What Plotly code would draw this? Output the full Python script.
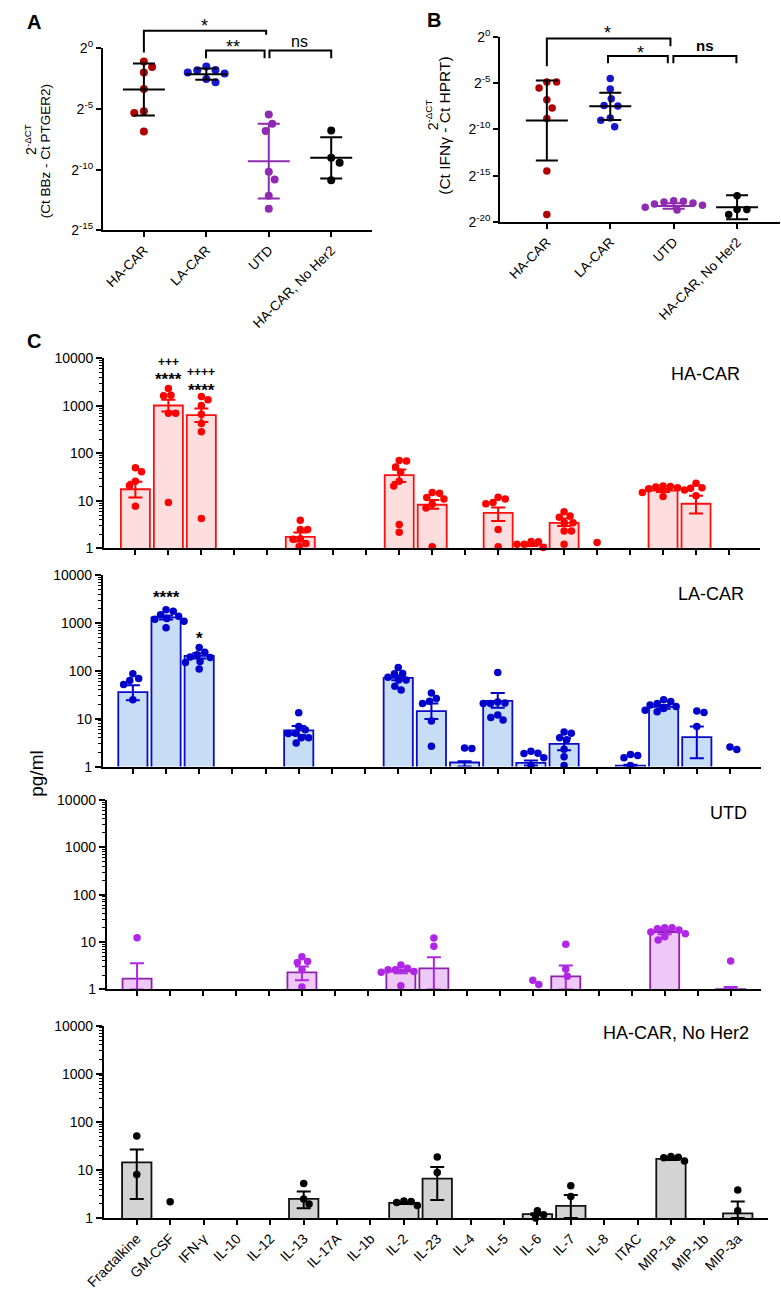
import math
import plotly.graph_objects as go

W, H = 781, 1293
FONT = "Liberation Sans, Arial, Helvetica, sans-serif"

# ======================= DATA =======================
GROUPS = ["HA-CAR", "LA-CAR", "UTD", "HA-CAR, No Her2"]

# Panel A: log2 of 2^-dCT (Ct BBz - Ct PTGER2)
A_HA = [-1.08, -1.52, -1.98, -3.34, -5.18, -5.32, -6.86]
A_LA = [-1.49, -1.77, -1.79, -1.98, -2.06, -2.52, -2.79]
A_UTD = [-5.45, -6.21, -6.81, -10.17, -10.82, -12.15, -13.24]
A_NOHER2 = [-6.78, -9.03, -9.44, -10.88]
A_MEAN = [-3.39, -2.12, -9.30, -9.03]
A_SD = [2.15, 0.47, 3.08, 1.70]
A_YTICKS = [0, -5, -10, -15]

# Panel B: log2 of 2^-dCT (Ct IFNg - Ct HPRT)
B_HA = [-4.87, -4.87, -5.51, -6.79, -7.68, -8.82, -14.50, -19.19]
B_LA = [-4.48, -5.62, -6.68, -7.40, -7.46, -8.75, -9.00, -9.70]
B_UTD = [-17.70, -17.75, -17.85, -17.95, -18.05, -18.20, -18.40, -18.70]
B_NOHER2 = [-17.17, -18.66, -18.66, -19.20]
B_MEAN = [-9.03, -7.50, -18.27, -18.40]
B_SD = [4.32, 1.48, 0.30, 1.30]
B_YTICKS = [0, -5, -10, -15, -20]

# Panel C: cytokines (pg/ml)
CYTOKINES = ["Fractalkine", "GM-CSF", "IFN-γ", "IL-10", "IL-12", "IL-13", "IL-17A",
             "IL-1b", "IL-2", "IL-23", "IL-4", "IL-5", "IL-6", "IL-7", "IL-8",
             "ITAC", "MIP-1a", "MIP-1b", "MIP-3a"]
C_YTICKS = [1, 10, 100, 1000, 10000]

HA_MEAN = [17.6, 1019, 641, None, None, 1.75, None, None, 35, 8.3, None, 5.6, 1.2, 3.46, None, None, 16.5, 8.7, None]
HA_UP = [25.4, 1340, 883, None, None, 2.15, None, None, 45.6, 10.5, None, 7.3, 1.28, 4.25, None, None, 17.8, 12.8, None]
HA_LO = [11.8, 758, 458, None, None, 1.4, None, None, 25, 6.8, None, 3.76, 1.12, 2.95, None, None, 15.3, 5.4, None]
HA_PTS = [[50, 41, 26, 21, 7.7], [2330, 1665, 1644, 700, 700, 9.3],
          [1567, 1350, 1020, 664, 425, 285, 4.25], [], [],
          [3.9, 2.5, 2.5, 1.6, 1.55, 1.27, 1.1], [], [],
          [71, 69, 52, 40, 26, 20.5, 3.2, 2.2], [15, 14.5, 11.8, 10.9, 8.6, 7.1, 1.08], [],
          [12, 10.9, 9.3, 8.7, 2.5, 1.08], [1.4, 1.38, 1.23, 1.23, 1.05],
          [5.9, 4.8, 4.5, 3.46, 3.46, 2.33, 2.33, 1.23], [1.33], [],
          [20.5, 20, 19.5, 19, 18, 17, 15, 12.4], [23.4, 19, 18.4, 12.8], []]

LA_MEAN = [36, 1318, 207, None, None, 5.7, None, None, 72, 14.5, 1.22, 23.6, 1.2, 2.98, None, 1.05, 17.8, 4.15, None]
LA_UP = [50, 1450, 235, None, None, 7.1, None, None, 80, 21, 1.3, 34.5, 1.35, 3.9, None, 1.1, 19.5, 6.9, None]
LA_LO = [24.5, 1190, 182, None, None, 4.6, None, None, 64, 9.9, 1.0, 17, 1.05, 2.2, None, 1.0, 16.3, 1.5, None]
LA_PTS = [[87, 70, 63, 52, 25], [1900, 1780, 1500, 1400, 1250, 1200, 1100, 800],
          [308, 245, 219, 197, 192, 158, 150, 110], [], [],
          [13.4, 6.9, 5.9, 5.0, 4.9, 4.0, 4.0, 3.1], [], [],
          [118, 89, 87, 74, 65, 65, 48, 40], [34.6, 26.6, 23.3, 21, 9, 2.66], [2.46, 2.4],
          [93, 22.5, 21.5, 21, 21, 12, 10.7, 9.4], [2.1, 1.9, 1.88, 1.53, 1.06],
          [5.3, 5.0, 4.0, 3.65, 2.3, 1.6, 1.06], [], [1.8, 1.71, 1.53, 1.06],
          [25, 23, 21, 19.5, 18, 16.5, 15, 14], [14.5, 13.6, 6.9], [2.58, 2.27]]

UTD_MEAN = [1.69, None, None, None, None, 2.29, None, None, 2.4, 2.8, None, None, None, 1.89, None, None, 16.3, None, 1.02]
UTD_UP = [3.57, None, None, None, None, 3.05, None, None, 2.6, 4.76, None, None, None, 3.2, None, None, 18.0, None, 1.13]
UTD_LO = [1.0, None, None, None, None, 1.56, None, None, 2.2, 1.0, None, None, None, 1.0, None, None, 14.7, None, 1.0]
UTD_PTS = [[12.4], [], [], [], [], [4.9, 3.9, 3.7, 2.6, 1.13], [], [],
           [3.3, 2.8, 2.6, 2.6, 2.4, 2.3, 1.2], [12.2, 8.2], [], [], [1.56, 1.27],
           [9.0, 2.7, 1.9], [], [], [20, 20, 19, 18, 16.3, 15, 13, 11], [], [4.0]]

NH_MEAN = [14.3, None, None, None, None, 2.49, None, None, 2.05, 6.6, None, None, 1.2, 1.79, None, None, 17, None, 1.25]
NH_UP = [26.4, None, None, None, None, 3.53, None, None, 2.15, 11.5, None, None, 1.25, 3.0, None, None, 18, None, 2.2]
NH_LO = [2.49, None, None, None, None, 1.6, None, None, 1.95, 2.37, None, None, 1.15, 1.0, None, None, 16, None, 1.0]
NH_PTS = [[50.6, 8.0], [2.16], [], [], [], [5.2, 2.49, 1.96], [], [],
          [2.26, 2.2, 2.1, 1.82], [18.5, 8.8], [], [], [1.41, 1.17, 1.0],
          [4.69, 2.79], [], [], [19, 18.4, 17.9, 15.3], [], [3.8, 1.41]]

# ======================= HELPERS =======================
def xdom(a, b):
    return [a / W, b / W]

def ydom(top, bottom):
    return [1 - bottom / H, 1 - top / H]

def py(v):
    return 1 - v / H

def px(v):
    return v / W

def swarm(vals, to_px, diam):
    """Beeswarm horizontal offsets (px) so that markers do not overlap."""
    order = sorted(range(len(vals)), key=lambda i: -vals[i])
    offs = [0.0] * len(vals)
    placed = []
    side = 1
    for i in order:
        y = to_px(vals[i])
        forb = []
        for (ox, oy) in placed:
            dy = abs(oy - y)
            if dy < diam:
                h = math.sqrt(diam * diam - dy * dy)
                forb.append((ox - h, ox + h))
        cands = [0.0] + [a for a, _ in forb] + [b for _, b in forb]
        ok = [c for c in cands if all(not (a + 1e-6 < c < b - 1e-6) for a, b in forb)]
        best = min(ok, key=lambda c: (round(abs(c), 3), -side * c))
        if abs(best) > 1e-6:
            side = -side
        placed.append((best, y))
        offs[i] = best
    return offs

fig = go.Figure()

AX = dict(showline=True, linecolor="black", linewidth=2, ticks="outside", tickcolor="black",
          tickwidth=2, ticklen=5, showgrid=False, zeroline=False, fixedrange=True,
          tickfont=dict(size=14, family=FONT, color="black"))

# ======================= PANELS A & B =======================
dot_cols = ["#B00000", "#1717D0", "#8E2BB0", "#000000"]
mean_cols = ["#000000", "#000000", "#8E2BB0", "#000000"]

panels = [
    dict(xa="x", ya="y", groups=[A_HA, A_LA, A_UTD, A_NOHER2], mean=A_MEAN, sd=A_SD,
         left=86, right=362, top=39, bottom=223.3, c0=128, step=64, ymin=-15, yticks=A_YTICKS, msize=8),
    dict(xa="x2", ya="y2", groups=[B_HA, B_LA, B_UTD, B_NOHER2], mean=B_MEAN, sd=B_SD,
         left=493.3, right=780, top=27.3, bottom=215, c0=541, step=65, ymin=-20, yticks=B_YTICKS, msize=7.5),
]

for k, p in enumerate(panels):
    ppu = (p["bottom"] - p["top"]) / (0 - p["ymin"])
    for gi, vals in enumerate(p["groups"]):
        offs = swarm(vals, lambda v: -v * ppu, 10)
        fig.add_trace(go.Scatter(
            x=[gi + o / p["step"] for o in offs], y=vals, mode="markers",
            marker=dict(size=p["msize"], color=dot_cols[gi]),
            xaxis=p["xa"], yaxis=p["ya"], showlegend=False, hoverinfo="skip", cliponaxis=False))
    for gi in range(4):
        fig.add_trace(go.Scatter(
            x=[gi], y=[p["mean"][gi]], mode="markers",
            marker=dict(symbol="line-ew", size=30, color=mean_cols[gi],
                        line=dict(width=2, color=mean_cols[gi])),
            error_y=dict(type="data", array=[p["sd"][gi]], symmetric=True, width=11,
                         thickness=2, color=mean_cols[gi]),
            xaxis=p["xa"], yaxis=p["ya"], showlegend=False, hoverinfo="skip", cliponaxis=False))
    r0 = (p["left"] - p["c0"]) / p["step"]
    r1 = (p["right"] - p["c0"]) / p["step"]
    xname = "xaxis" if k == 0 else "xaxis2"
    yname = "yaxis" if k == 0 else "yaxis2"
    fig.update_layout(**{
        xname: dict(AX, domain=xdom(p["left"], p["right"]), range=[r0, r1], anchor=p["ya"],
                    tickmode="array", tickvals=list(range(4)), ticktext=GROUPS, tickangle=-45,
                    tickfont=dict(size=13.5, family=FONT, color="black")),
        yname: dict(AX, domain=ydom(p["top"], p["bottom"]), range=[p["ymin"], 0], anchor=p["xa"],
                    tickmode="array", tickvals=p["yticks"],
                    ticktext=["2<sup>%d</sup>" % t for t in p["yticks"]]),
    })

# brackets (px coordinates)
brackets = [
    # (x_left, x_right, y_top, y_left_bottom, y_right_bottom)
    (128, 253.3, 21, 43, 25), (191.7, 251.7, 41, 49, 49), (256.7, 320, 41, 49, 49),
    (541, 667.7, 29, 57, 36.7), (603.7, 665, 46.7, 54, 54), (670.7, 735.3, 46.7, 54, 54),
]
for (xl, xr, yt, ylb, yrb) in brackets:
    fig.add_shape(type="path", xref="paper", yref="paper",
                  path="M %f %f L %f %f L %f %f L %f %f" % (px(xl), py(ylb), px(xl), py(yt),
                                                            px(xr), py(yt), px(xr), py(yrb)),
                  line=dict(color="black", width=2))

sig_labels = [
    ("*", 190, 16.5, 18, False), ("**", 219, 37.5, 18, False), ("ns", 288, 31.5, 16, False),
    ("*", 603.3, 23.3, 18, False), ("*", 636.7, 43.3, 18, False), ("ns", 703.3, 35.5, 15, True),
]
for (t, xx, yy, fs, bold) in sig_labels:
    fig.add_annotation(x=px(xx), y=py(yy), xref="paper", yref="paper", text=("<b>%s</b>" % t) if bold else t,
                       showarrow=False, xanchor="center", yanchor="middle",
                       font=dict(size=fs, family=FONT, color="black"))

# y titles of A and B
for (t, xx, yy, fs) in [("2<sup>-ΔCT</sup>", 12, 131, 14), ("(Ct BBz - Ct PTGER2)", 27, 143, 13.5),
                        ("2<sup>-ΔCT</sup>", 423, 106, 14), ("(Ct IFNγ - Ct HPRT)", 436, 117, 15.5)]:
    fig.add_annotation(x=px(xx), y=py(yy), xref="paper", yref="paper", text=t, textangle=-90,
                       showarrow=False, xanchor="center", yanchor="middle",
                       font=dict(size=fs, family=FONT, color="black"))

# ======================= PANEL C =======================
rows = [
    dict(name="HA-CAR", mean=HA_MEAN, up=HA_UP, lo=HA_LO, pts=HA_PTS,
         fill="#FDDEDE", line="#FF1010", dot="#FF0000", err="#FF0000",
         left=87.3, right=759.3, c0=119.3, step=33.8, top=353.3, bottom=546, lab=(741, 369)),
    dict(name="LA-CAR", mean=LA_MEAN, up=LA_UP, lo=LA_LO, pts=LA_PTS,
         fill="#C7DCF5", line="#0B0BC8", dot="#0000CC", err="#0000CC",
         left=86, right=760, c0=116.7, step=34.0, top=573.3, bottom=767.3, lab=(745, 592)),
    dict(name="UTD", mean=UTD_MEAN, up=UTD_UP, lo=UTD_LO, pts=UTD_PTS,
         fill="#EEC9F7", line="#8E22A8", dot="#B026E6", err="#B026E6",
         left=90, right=760, c0=121, step=33.8, top=801, bottom=993.3, lab=(748, 814)),
    dict(name="HA-CAR, No Her2", mean=NH_MEAN, up=NH_UP, lo=NH_LO, pts=NH_PTS,
         fill="#D3D3D3", line="#111111", dot="#000000", err="#000000",
         left=87, right=768, c0=120.7, step=34.22, top=1030, bottom=1225, lab=(750, 1037)),
]

minor_vals = [m * 10 ** d for d in range(4) for m in range(2, 10)]

for ri, r in enumerate(rows):
    n = ri + 3
    xa, ya = "x%d" % n, "y%d" % n
    idx = [i for i, m in enumerate(r["mean"]) if m is not None]
    means = [r["mean"][i] for i in idx]
    fig.add_trace(go.Bar(
        x=idx, y=means, width=0.88,
        marker=dict(color=r["fill"], line=dict(color=r["line"], width=1.8)),
        error_y=dict(type="data", array=[r["up"][i] - r["mean"][i] for i in idx],
                     arrayminus=[r["mean"][i] - r["lo"][i] for i in idx],
                     symmetric=False, width=7, thickness=2, color=r["err"]),
        xaxis=xa, yaxis=ya, showlegend=False, hoverinfo="skip"))
    decade = (r["bottom"] - r["top"]) / 4.0
    xs, ys = [], []
    for i, vals in enumerate(r["pts"]):
        if not vals:
            continue
        offs = swarm(vals, lambda v: math.log10(v) * decade, 7.5)
        xs += [i + o / r["step"] for o in offs]
        ys += vals
    fig.add_trace(go.Scatter(
        x=xs, y=ys, mode="markers", marker=dict(size=7.5, color=r["dot"]),
        xaxis=xa, yaxis=ya, showlegend=False, hoverinfo="skip", cliponaxis=False))

    r0 = (r["left"] - r["c0"]) / r["step"]
    r1 = (r["right"] - r["c0"]) / r["step"]
    last = ri == len(rows) - 1
    fig.update_layout(**{
        "xaxis%d" % n: dict(AX, domain=xdom(r["left"], r["right"]), range=[r0, r1], anchor=ya,
                            tickmode="array", tickvals=list(range(len(CYTOKINES))), ticktext=CYTOKINES,
                            showticklabels=last, tickangle=-45),
        "yaxis%d" % n: dict(AX, domain=ydom(r["top"], r["bottom"]), type="log", range=[0, 4],
                            anchor=xa, tickmode="array", tickvals=C_YTICKS,
                            ticktext=[str(t) for t in C_YTICKS], ticklen=6,
                            minor=dict(tickmode="array", tickvals=minor_vals, ticks="outside",
                                       ticklen=3, tickwidth=1, tickcolor="black")),
    })
    fig.add_annotation(x=px(r["lab"][0]), y=py(r["lab"][1]), xref="paper", yref="paper",
                       text=r["name"], showarrow=False, xanchor="right", yanchor="middle",
                       font=dict(size=18, family=FONT, color="black"))

# significance marks in panel C (row, category, px y, text, size)
c_marks = [
    (0, 1, 356.5, "<b>+++</b>", 12), (0, 1, 375, "<b>****</b>", 17),
    (0, 2, 367.5, "<b>++++</b>", 12), (0, 2, 386, "<b>****</b>", 17),
    (1, 1, 595.5, "<b>****</b>", 17), (1, 2, 637, "<b>*</b>", 17),
]
for (ri, cat, yy, t, fs) in c_marks:
    r = rows[ri]
    fig.add_annotation(x=px(r["c0"] + cat * r["step"]), y=py(yy), xref="paper", yref="paper",
                       text=t, showarrow=False, xanchor="center", yanchor="middle",
                       font=dict(size=fs, family=FONT, color="black"))

# pg/ml label and panel letters
fig.add_annotation(x=px(18), y=py(775), xref="paper", yref="paper", text="pg/ml", textangle=-90,
                   showarrow=False, xanchor="center", yanchor="middle",
                   font=dict(size=19, family=FONT, color="black"))
for (t, xx, yy) in [("A", 6, 12.5), ("B", 416, 10.5), ("C", 6, 336)]:
    fig.add_annotation(x=px(xx), y=py(yy), xref="paper", yref="paper", text="<b>%s</b>" % t,
                       showarrow=False, xanchor="left", yanchor="middle",
                       font=dict(size=20, family=FONT, color="black"))

fig.update_layout(width=W, height=H, autosize=False, margin=dict(l=0, r=0, t=0, b=0, pad=0),
                  paper_bgcolor="white", plot_bgcolor="rgba(0,0,0,0)", showlegend=False,
                  bargap=0, font=dict(family=FONT, color="black"))

fig.write_html("out.html", config={"displayModeBar": False, "staticPlot": True},
               post_script="document.body.style.margin='0px';")
